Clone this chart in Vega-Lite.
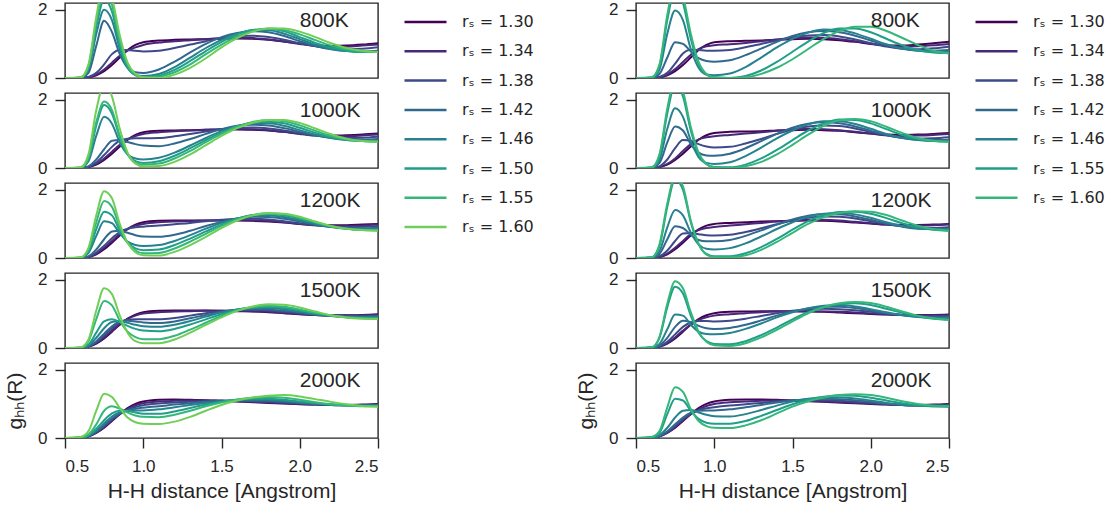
{
"$schema":"https://vega.github.io/schema/vega-lite/v6.json",
"padding":{"left":3,"top":0,"right":0,"bottom":0},
"background":"white",
"config":{
 "font":"Liberation Sans",
 "view":{"stroke":"#262626","strokeWidth":1.4},
 "axis":{"domain":false,"grid":false,"tickSize":10,"tickColor":"#262626","tickWidth":1.4,"labelFontSize":17,"labelColor":"#262626","labelPadding":8,"titlePadding":7,"titleFontSize":21,"titleFontWeight":"normal","titleColor":"#262626","labelFont":"Liberation Sans","titleFont":"Liberation Sans"},
 "axisY":{"titlePadding":12,"titleFontSize":21},
 "axisX":{"labelPadding":10,"titlePadding":6},
 "legend":{"symbolType":"stroke","symbolSize":1764,"symbolStrokeWidth":2.5,"labelFontSize":16,"labelColor":"#262626","labelFont":"DejaVu Sans","clipHeight":16,"rowPadding":13.3,"labelOffset":14,"padding":11,"offset":12}
},
"datasets":{
"L":[
{"T":800,"x":0.5,"a":0,"b":0,"c":0,"d":0,"e":0,"f":0,"g":0,"h":0},
{"T":800,"x":0.6,"a":0,"b":0,"c":0,"d":0.01,"e":0.01,"f":0.01,"g":0.01,"h":0.02},
{"T":800,"x":0.65,"a":0.02,"b":0.02,"c":0.03,"d":0.15,"e":0.25,"f":0.3,"g":0.35,"h":0.4},
{"T":800,"x":0.7,"a":0.08,"b":0.1,"c":0.15,"d":0.95,"e":1.3,"f":1.5,"g":1.65,"h":1.8},
{"T":800,"x":0.75,"a":0.2,"b":0.25,"c":0.4,"d":1.68,"e":2.0,"f":2.3,"g":2.55,"h":2.8},
{"T":800,"x":0.8,"a":0.38,"b":0.45,"c":0.7,"d":1.35,"e":1.7,"f":1.95,"g":2.15,"h":2.35},
{"T":800,"x":0.85,"a":0.6,"b":0.65,"c":0.82,"d":0.7,"e":0.85,"f":0.95,"g":1.1,"h":1.25},
{"T":800,"x":0.9,"a":0.82,"b":0.8,"c":0.82,"d":0.3,"e":0.3,"f":0.32,"g":0.38,"h":0.45},
{"T":800,"x":0.95,"a":0.97,"b":0.9,"c":0.8,"d":0.17,"e":0.1,"f":0.08,"g":0.1,"h":0.12},
{"T":800,"x":1.0,"a":1.05,"b":0.97,"c":0.78,"d":0.15,"e":0.06,"f":0.03,"g":0.02,"h":0.02},
{"T":800,"x":1.1,"a":1.1,"b":1.04,"c":0.8,"d":0.25,"e":0.12,"f":0.07,"g":0.04,"h":0},
{"T":800,"x":1.2,"a":1.12,"b":1.08,"c":0.88,"d":0.48,"e":0.32,"f":0.24,"g":0.17,"h":0.1},
{"T":800,"x":1.3,"a":1.13,"b":1.11,"c":0.98,"d":0.75,"e":0.6,"f":0.5,"g":0.4,"h":0.3},
{"T":800,"x":1.4,"a":1.14,"b":1.14,"c":1.08,"d":1.0,"e":0.88,"f":0.79,"g":0.7,"h":0.58},
{"T":800,"x":1.5,"a":1.15,"b":1.17,"c":1.17,"d":1.2,"e":1.12,"f":1.06,"g":0.98,"h":0.9},
{"T":800,"x":1.6,"a":1.16,"b":1.18,"c":1.23,"d":1.32,"e":1.3,"f":1.28,"g":1.22,"h":1.17},
{"T":800,"x":1.7,"a":1.15,"b":1.17,"c":1.24,"d":1.37,"e":1.4,"f":1.41,"g":1.38,"h":1.36},
{"T":800,"x":1.8,"a":1.12,"b":1.13,"c":1.2,"d":1.34,"e":1.4,"f":1.44,"g":1.45,"h":1.45},
{"T":800,"x":1.9,"a":1.07,"b":1.07,"c":1.12,"d":1.23,"e":1.3,"f":1.37,"g":1.41,"h":1.45},
{"T":800,"x":2.0,"a":1.01,"b":1.0,"c":1.02,"d":1.08,"e":1.14,"f":1.2,"g":1.28,"h":1.36},
{"T":800,"x":2.1,"a":0.96,"b":0.94,"c":0.93,"d":0.94,"e":0.98,"f":1.03,"g":1.11,"h":1.2},
{"T":800,"x":2.2,"a":0.94,"b":0.91,"c":0.87,"d":0.84,"e":0.86,"f":0.89,"g":0.95,"h":1.02},
{"T":800,"x":2.3,"a":0.95,"b":0.92,"c":0.85,"d":0.79,"e":0.79,"f":0.8,"g":0.84,"h":0.88},
{"T":800,"x":2.4,"a":0.98,"b":0.95,"c":0.86,"d":0.78,"e":0.76,"f":0.76,"g":0.78,"h":0.8},
{"T":800,"x":2.5,"a":1.02,"b":0.98,"c":0.9,"d":0.8,"e":0.77,"f":0.76,"g":0.76,"h":0.76},
{"T":1000,"x":0.5,"a":0,"b":0,"c":0,"d":0,"e":0,"f":0,"g":0,"h":0},
{"T":1000,"x":0.6,"a":0,"b":0,"c":0,"d":0,"e":0.01,"f":0.01,"g":0.01,"h":0.02},
{"T":1000,"x":0.65,"a":0.03,"b":0.03,"c":0.04,"d":0.05,"e":0.2,"f":0.28,"g":0.3,"h":0.4},
{"T":1000,"x":0.7,"a":0.1,"b":0.12,"c":0.16,"d":0.25,"e":0.95,"f":1.25,"g":1.35,"h":1.7},
{"T":1000,"x":0.75,"a":0.24,"b":0.28,"c":0.38,"d":0.55,"e":1.5,"f":1.85,"g":1.95,"h":2.45},
{"T":1000,"x":0.8,"a":0.42,"b":0.48,"c":0.62,"d":0.8,"e":1.3,"f":1.6,"g":1.7,"h":2.1},
{"T":1000,"x":0.85,"a":0.63,"b":0.68,"c":0.8,"d":0.82,"e":0.75,"f":0.9,"g":0.95,"h":1.15},
{"T":1000,"x":0.9,"a":0.83,"b":0.84,"c":0.86,"d":0.76,"e":0.4,"f":0.4,"g":0.4,"h":0.45},
{"T":1000,"x":0.95,"a":0.97,"b":0.94,"c":0.87,"d":0.7,"e":0.28,"f":0.2,"g":0.15,"h":0.13},
{"T":1000,"x":1.0,"a":1.05,"b":1.0,"c":0.87,"d":0.66,"e":0.25,"f":0.15,"g":0.1,"h":0.05},
{"T":1000,"x":1.1,"a":1.09,"b":1.05,"c":0.88,"d":0.64,"e":0.3,"f":0.2,"g":0.13,"h":0.06},
{"T":1000,"x":1.2,"a":1.1,"b":1.08,"c":0.93,"d":0.72,"e":0.45,"f":0.36,"g":0.28,"h":0.18},
{"T":1000,"x":1.3,"a":1.11,"b":1.1,"c":1.0,"d":0.85,"e":0.66,"f":0.58,"g":0.5,"h":0.4},
{"T":1000,"x":1.4,"a":1.12,"b":1.12,"c":1.07,"d":1.0,"e":0.88,"f":0.82,"g":0.76,"h":0.67},
{"T":1000,"x":1.5,"a":1.13,"b":1.14,"c":1.14,"d":1.14,"e":1.08,"f":1.04,"g":1.0,"h":0.94},
{"T":1000,"x":1.6,"a":1.13,"b":1.15,"c":1.18,"d":1.24,"e":1.23,"f":1.22,"g":1.21,"h":1.17},
{"T":1000,"x":1.7,"a":1.12,"b":1.14,"c":1.19,"d":1.27,"e":1.31,"f":1.33,"g":1.35,"h":1.33},
{"T":1000,"x":1.8,"a":1.1,"b":1.11,"c":1.16,"d":1.25,"e":1.31,"f":1.36,"g":1.4,"h":1.41},
{"T":1000,"x":1.9,"a":1.06,"b":1.06,"c":1.1,"d":1.17,"e":1.24,"f":1.31,"g":1.37,"h":1.41},
{"T":1000,"x":2.0,"a":1.01,"b":1.0,"c":1.02,"d":1.06,"e":1.11,"f":1.18,"g":1.25,"h":1.32},
{"T":1000,"x":2.1,"a":0.97,"b":0.95,"c":0.95,"d":0.96,"e":0.98,"f":1.03,"g":1.09,"h":1.16},
{"T":1000,"x":2.2,"a":0.95,"b":0.93,"c":0.9,"d":0.88,"e":0.88,"f":0.9,"g":0.94,"h":0.99},
{"T":1000,"x":2.3,"a":0.96,"b":0.93,"c":0.88,"d":0.84,"e":0.82,"f":0.82,"g":0.84,"h":0.86},
{"T":1000,"x":2.4,"a":0.98,"b":0.95,"c":0.89,"d":0.83,"e":0.8,"f":0.79,"g":0.79,"h":0.79},
{"T":1000,"x":2.5,"a":1.01,"b":0.98,"c":0.92,"d":0.85,"e":0.8,"f":0.78,"g":0.77,"h":0.77},
{"T":1200,"x":0.5,"a":0,"b":0,"c":0,"d":0,"e":0,"f":0,"g":0,"h":0},
{"T":1200,"x":0.6,"a":0,"b":0,"c":0,"d":0,"e":0.01,"f":0.01,"g":0.01,"h":0.02},
{"T":1200,"x":0.65,"a":0.03,"b":0.03,"c":0.04,"d":0.05,"e":0.15,"f":0.2,"g":0.25,"h":0.3},
{"T":1200,"x":0.7,"a":0.11,"b":0.13,"c":0.16,"d":0.25,"e":0.65,"f":0.85,"g":1.05,"h":1.25},
{"T":1200,"x":0.75,"a":0.26,"b":0.3,"c":0.36,"d":0.55,"e":1.08,"f":1.36,"g":1.67,"h":1.96},
{"T":1200,"x":0.8,"a":0.45,"b":0.5,"c":0.58,"d":0.78,"e":1.02,"f":1.25,"g":1.5,"h":1.75},
{"T":1200,"x":0.85,"a":0.66,"b":0.7,"c":0.76,"d":0.8,"e":0.72,"f":0.8,"g":0.9,"h":1.0},
{"T":1200,"x":0.9,"a":0.85,"b":0.85,"c":0.86,"d":0.74,"e":0.48,"f":0.45,"g":0.45,"h":0.45},
{"T":1200,"x":0.95,"a":0.98,"b":0.95,"c":0.9,"d":0.67,"e":0.38,"f":0.28,"g":0.22,"h":0.17},
{"T":1200,"x":1.0,"a":1.05,"b":1.0,"c":0.92,"d":0.63,"e":0.35,"f":0.23,"g":0.14,"h":0.08},
{"T":1200,"x":1.1,"a":1.09,"b":1.05,"c":0.95,"d":0.62,"e":0.38,"f":0.25,"g":0.15,"h":0.07},
{"T":1200,"x":1.2,"a":1.1,"b":1.07,"c":0.99,"d":0.68,"e":0.5,"f":0.38,"g":0.28,"h":0.18},
{"T":1200,"x":1.3,"a":1.1,"b":1.08,"c":1.03,"d":0.8,"e":0.67,"f":0.57,"g":0.48,"h":0.38},
{"T":1200,"x":1.4,"a":1.1,"b":1.1,"c":1.08,"d":0.94,"e":0.86,"f":0.78,"g":0.71,"h":0.62},
{"T":1200,"x":1.5,"a":1.1,"b":1.11,"c":1.12,"d":1.06,"e":1.03,"f":0.98,"g":0.94,"h":0.88},
{"T":1200,"x":1.6,"a":1.1,"b":1.12,"c":1.15,"d":1.16,"e":1.16,"f":1.15,"g":1.13,"h":1.1},
{"T":1200,"x":1.7,"a":1.09,"b":1.11,"c":1.15,"d":1.21,"e":1.24,"f":1.26,"g":1.26,"h":1.25},
{"T":1200,"x":1.8,"a":1.07,"b":1.09,"c":1.13,"d":1.2,"e":1.25,"f":1.29,"g":1.31,"h":1.31},
{"T":1200,"x":1.9,"a":1.04,"b":1.05,"c":1.08,"d":1.15,"e":1.2,"f":1.25,"g":1.28,"h":1.3},
{"T":1200,"x":2.0,"a":1.0,"b":1.0,"c":1.02,"d":1.07,"e":1.11,"f":1.15,"g":1.18,"h":1.21},
{"T":1200,"x":2.1,"a":0.97,"b":0.96,"c":0.96,"d":0.98,"e":1.0,"f":1.03,"g":1.05,"h":1.07},
{"T":1200,"x":2.2,"a":0.96,"b":0.94,"c":0.92,"d":0.92,"e":0.91,"f":0.92,"g":0.93,"h":0.94},
{"T":1200,"x":2.3,"a":0.96,"b":0.94,"c":0.91,"d":0.88,"e":0.86,"f":0.86,"g":0.86,"h":0.86},
{"T":1200,"x":2.4,"a":0.98,"b":0.95,"c":0.92,"d":0.87,"e":0.84,"f":0.83,"g":0.82,"h":0.82},
{"T":1200,"x":2.5,"a":1.0,"b":0.98,"c":0.94,"d":0.89,"e":0.84,"f":0.82,"g":0.81,"h":0.8},
{"T":1500,"x":0.5,"a":0,"b":0,"c":0,"d":0,"e":0,"f":0,"g":0,"h":0},
{"T":1500,"x":0.6,"a":0,"b":0,"c":0,"d":0,"e":0.01,"f":0.01,"g":0.01,"h":0.02},
{"T":1500,"x":0.65,"a":0.04,"b":0.04,"c":0.05,"d":0.05,"e":0.08,"f":0.1,"g":0.2,"h":0.25},
{"T":1500,"x":0.7,"a":0.13,"b":0.14,"c":0.17,"d":0.2,"e":0.3,"f":0.45,"g":0.85,"h":1.1},
{"T":1500,"x":0.75,"a":0.28,"b":0.31,"c":0.37,"d":0.42,"e":0.58,"f":0.78,"g":1.38,"h":1.75},
{"T":1500,"x":0.8,"a":0.48,"b":0.51,"c":0.58,"d":0.64,"e":0.76,"f":0.84,"g":1.25,"h":1.58},
{"T":1500,"x":0.85,"a":0.68,"b":0.7,"c":0.75,"d":0.77,"e":0.79,"f":0.76,"g":0.8,"h":0.95},
{"T":1500,"x":0.9,"a":0.86,"b":0.85,"c":0.83,"d":0.8,"e":0.74,"f":0.65,"g":0.48,"h":0.45},
{"T":1500,"x":0.95,"a":0.98,"b":0.95,"c":0.84,"d":0.78,"e":0.68,"f":0.56,"g":0.32,"h":0.2},
{"T":1500,"x":1.0,"a":1.05,"b":1.01,"c":0.84,"d":0.75,"e":0.64,"f":0.51,"g":0.26,"h":0.14},
{"T":1500,"x":1.1,"a":1.09,"b":1.05,"c":0.84,"d":0.73,"e":0.62,"f":0.49,"g":0.26,"h":0.14},
{"T":1500,"x":1.2,"a":1.1,"b":1.07,"c":0.88,"d":0.78,"e":0.68,"f":0.56,"g":0.36,"h":0.25},
{"T":1500,"x":1.3,"a":1.1,"b":1.08,"c":0.95,"d":0.87,"e":0.79,"f":0.69,"g":0.54,"h":0.45},
{"T":1500,"x":1.4,"a":1.1,"b":1.09,"c":1.02,"d":0.97,"e":0.92,"f":0.84,"g":0.74,"h":0.68},
{"T":1500,"x":1.5,"a":1.09,"b":1.09,"c":1.08,"d":1.06,"e":1.04,"f":0.99,"g":0.94,"h":0.9},
{"T":1500,"x":1.6,"a":1.08,"b":1.09,"c":1.11,"d":1.12,"e":1.13,"f":1.12,"g":1.1,"h":1.09},
{"T":1500,"x":1.7,"a":1.07,"b":1.08,"c":1.12,"d":1.14,"e":1.17,"f":1.19,"g":1.2,"h":1.22},
{"T":1500,"x":1.8,"a":1.05,"b":1.06,"c":1.1,"d":1.13,"e":1.17,"f":1.21,"g":1.24,"h":1.28},
{"T":1500,"x":1.9,"a":1.02,"b":1.03,"c":1.06,"d":1.09,"e":1.13,"f":1.17,"g":1.21,"h":1.27},
{"T":1500,"x":2.0,"a":0.99,"b":1.0,"c":1.02,"d":1.04,"e":1.06,"f":1.1,"g":1.13,"h":1.19},
{"T":1500,"x":2.1,"a":0.97,"b":0.97,"c":0.98,"d":0.98,"e":0.99,"f":1.02,"g":1.03,"h":1.07},
{"T":1500,"x":2.2,"a":0.96,"b":0.95,"c":0.95,"d":0.94,"e":0.94,"f":0.95,"g":0.95,"h":0.96},
{"T":1500,"x":2.3,"a":0.96,"b":0.95,"c":0.94,"d":0.92,"e":0.91,"f":0.9,"g":0.9,"h":0.89},
{"T":1500,"x":2.4,"a":0.97,"b":0.96,"c":0.94,"d":0.92,"e":0.9,"f":0.88,"g":0.87,"h":0.86},
{"T":1500,"x":2.5,"a":0.99,"b":0.97,"c":0.95,"d":0.93,"e":0.91,"f":0.88,"g":0.86,"h":0.85},
{"T":2000,"x":0.5,"a":0,"b":0,"c":0,"d":0,"e":0,"f":0,"g":0,"h":0},
{"T":2000,"x":0.6,"a":0.01,"b":0.01,"c":0.01,"d":0.01,"e":0.01,"f":0.01,"g":0.02,"h":0.03},
{"T":2000,"x":0.65,"a":0.05,"b":0.05,"c":0.05,"d":0.06,"e":0.07,"f":0.08,"g":0.1,"h":0.2},
{"T":2000,"x":0.7,"a":0.15,"b":0.16,"c":0.17,"d":0.19,"e":0.22,"f":0.27,"g":0.4,"h":0.8},
{"T":2000,"x":0.75,"a":0.3,"b":0.32,"c":0.34,"d":0.38,"e":0.43,"f":0.52,"g":0.8,"h":1.3},
{"T":2000,"x":0.8,"a":0.5,"b":0.52,"c":0.54,"d":0.57,"e":0.63,"f":0.72,"g":0.93,"h":1.2},
{"T":2000,"x":0.85,"a":0.7,"b":0.7,"c":0.71,"d":0.72,"e":0.75,"f":0.8,"g":0.86,"h":0.88},
{"T":2000,"x":0.9,"a":0.88,"b":0.85,"c":0.83,"d":0.81,"e":0.8,"f":0.79,"g":0.75,"h":0.6},
{"T":2000,"x":0.95,"a":1.0,"b":0.96,"c":0.91,"d":0.86,"e":0.81,"f":0.75,"g":0.66,"h":0.46},
{"T":2000,"x":1.0,"a":1.07,"b":1.02,"c":0.96,"d":0.89,"e":0.81,"f":0.71,"g":0.62,"h":0.42},
{"T":2000,"x":1.1,"a":1.12,"b":1.07,"c":1.01,"d":0.93,"e":0.84,"f":0.71,"g":0.61,"h":0.41},
{"T":2000,"x":1.2,"a":1.13,"b":1.09,"c":1.04,"d":0.98,"e":0.9,"f":0.78,"g":0.68,"h":0.48},
{"T":2000,"x":1.3,"a":1.12,"b":1.1,"c":1.06,"d":1.02,"e":0.97,"f":0.88,"g":0.8,"h":0.62},
{"T":2000,"x":1.4,"a":1.11,"b":1.1,"c":1.08,"d":1.06,"e":1.03,"f":0.98,"g":0.93,"h":0.8},
{"T":2000,"x":1.5,"a":1.09,"b":1.09,"c":1.09,"d":1.09,"e":1.08,"f":1.06,"g":1.04,"h":0.97},
{"T":2000,"x":1.6,"a":1.07,"b":1.08,"c":1.09,"d":1.1,"e":1.11,"f":1.12,"g":1.13,"h":1.1},
{"T":2000,"x":1.7,"a":1.05,"b":1.06,"c":1.08,"d":1.1,"e":1.13,"f":1.15,"g":1.18,"h":1.19},
{"T":2000,"x":1.8,"a":1.03,"b":1.04,"c":1.06,"d":1.09,"e":1.12,"f":1.15,"g":1.2,"h":1.24},
{"T":2000,"x":1.9,"a":1.01,"b":1.02,"c":1.04,"d":1.06,"e":1.09,"f":1.12,"g":1.18,"h":1.26},
{"T":2000,"x":2.0,"a":0.99,"b":1.0,"c":1.01,"d":1.03,"e":1.05,"f":1.07,"g":1.12,"h":1.22},
{"T":2000,"x":2.1,"a":0.98,"b":0.98,"c":0.99,"d":1.0,"e":1.01,"f":1.02,"g":1.05,"h":1.14},
{"T":2000,"x":2.2,"a":0.97,"b":0.97,"c":0.97,"d":0.97,"e":0.98,"f":0.98,"g":0.99,"h":1.06},
{"T":2000,"x":2.3,"a":0.97,"b":0.97,"c":0.96,"d":0.96,"e":0.96,"f":0.95,"g":0.95,"h":0.99},
{"T":2000,"x":2.4,"a":0.98,"b":0.97,"c":0.96,"d":0.95,"e":0.95,"f":0.94,"g":0.93,"h":0.94},
{"T":2000,"x":2.5,"a":1.0,"b":0.99,"c":0.97,"d":0.96,"e":0.95,"f":0.94,"g":0.93,"h":0.92}
],
"R":[
{"T":800,"x":0.5,"a":0,"b":0,"c":0,"d":0,"e":0,"g":0,"h":0},
{"T":800,"x":0.6,"a":0,"b":0,"c":0,"d":0.01,"e":0.01,"g":0.01,"h":0.02},
{"T":800,"x":0.65,"a":0.02,"b":0.02,"c":0.03,"d":0.12,"e":0.25,"g":0.35,"h":0.4},
{"T":800,"x":0.7,"a":0.08,"b":0.1,"c":0.15,"d":0.6,"e":1.3,"g":1.7,"h":1.85},
{"T":800,"x":0.75,"a":0.2,"b":0.26,"c":0.42,"d":1.05,"e":1.98,"g":2.6,"h":2.8},
{"T":800,"x":0.8,"a":0.38,"b":0.47,"c":0.72,"d":1.0,"e":1.7,"g":2.2,"h":2.4},
{"T":800,"x":0.85,"a":0.6,"b":0.68,"c":0.83,"d":0.78,"e":0.85,"g":1.15,"h":1.3},
{"T":800,"x":0.9,"a":0.82,"b":0.85,"c":0.82,"d":0.58,"e":0.3,"g":0.4,"h":0.47},
{"T":800,"x":0.95,"a":0.97,"b":0.93,"c":0.8,"d":0.5,"e":0.1,"g":0.1,"h":0.12},
{"T":800,"x":1.0,"a":1.05,"b":0.96,"c":0.8,"d":0.48,"e":0.08,"g":0.02,"h":0.02},
{"T":800,"x":1.1,"a":1.08,"b":0.99,"c":0.82,"d":0.52,"e":0.13,"g":0,"h":0},
{"T":800,"x":1.2,"a":1.09,"b":1.03,"c":0.9,"d":0.67,"e":0.32,"g":0.06,"h":0.02},
{"T":800,"x":1.3,"a":1.1,"b":1.08,"c":1.0,"d":0.86,"e":0.6,"g":0.22,"h":0.12},
{"T":800,"x":1.4,"a":1.12,"b":1.13,"c":1.1,"d":1.06,"e":0.9,"g":0.47,"h":0.3},
{"T":800,"x":1.5,"a":1.14,"b":1.17,"c":1.19,"d":1.23,"e":1.15,"g":0.77,"h":0.55},
{"T":800,"x":1.6,"a":1.15,"b":1.19,"c":1.25,"d":1.34,"e":1.33,"g":1.07,"h":0.85},
{"T":800,"x":1.7,"a":1.14,"b":1.18,"c":1.26,"d":1.38,"e":1.42,"g":1.32,"h":1.15},
{"T":800,"x":1.8,"a":1.11,"b":1.14,"c":1.22,"d":1.34,"e":1.41,"g":1.45,"h":1.38},
{"T":800,"x":1.9,"a":1.06,"b":1.08,"c":1.13,"d":1.24,"e":1.31,"g":1.45,"h":1.5},
{"T":800,"x":2.0,"a":1.0,"b":1.01,"c":1.02,"d":1.1,"e":1.15,"g":1.34,"h":1.5},
{"T":800,"x":2.1,"a":0.96,"b":0.95,"c":0.92,"d":0.96,"e":0.99,"g":1.15,"h":1.38},
{"T":800,"x":2.2,"a":0.95,"b":0.92,"c":0.86,"d":0.86,"e":0.87,"g":0.96,"h":1.18},
{"T":800,"x":2.3,"a":0.98,"b":0.93,"c":0.84,"d":0.81,"e":0.8,"g":0.82,"h":0.97},
{"T":800,"x":2.4,"a":1.02,"b":0.96,"c":0.87,"d":0.8,"e":0.77,"g":0.75,"h":0.8},
{"T":800,"x":2.5,"a":1.06,"b":1.0,"c":0.92,"d":0.82,"e":0.77,"g":0.73,"h":0.72},
{"T":1000,"x":0.5,"a":0,"b":0,"c":0,"d":0,"e":0,"g":0,"h":0},
{"T":1000,"x":0.6,"a":0,"b":0,"c":0,"d":0.01,"e":0.01,"g":0.01,"h":0.02},
{"T":1000,"x":0.65,"a":0.03,"b":0.03,"c":0.05,"d":0.15,"e":0.25,"g":0.35,"h":0.4},
{"T":1000,"x":0.7,"a":0.1,"b":0.12,"c":0.25,"d":0.75,"e":1.15,"g":1.6,"h":1.75},
{"T":1000,"x":0.75,"a":0.24,"b":0.28,"c":0.58,"d":1.22,"e":1.75,"g":2.45,"h":2.6},
{"T":1000,"x":0.8,"a":0.42,"b":0.5,"c":0.82,"d":1.1,"e":1.5,"g":2.1,"h":2.25},
{"T":1000,"x":0.85,"a":0.63,"b":0.7,"c":0.8,"d":0.7,"e":0.8,"g":1.1,"h":1.2},
{"T":1000,"x":0.9,"a":0.83,"b":0.84,"c":0.7,"d":0.45,"e":0.32,"g":0.4,"h":0.45},
{"T":1000,"x":0.95,"a":0.96,"b":0.9,"c":0.63,"d":0.37,"e":0.15,"g":0.11,"h":0.12},
{"T":1000,"x":1.0,"a":1.03,"b":0.93,"c":0.6,"d":0.36,"e":0.12,"g":0.03,"h":0.02},
{"T":1000,"x":1.1,"a":1.06,"b":0.97,"c":0.62,"d":0.42,"e":0.17,"g":0.02,"h":0},
{"T":1000,"x":1.2,"a":1.07,"b":1.01,"c":0.72,"d":0.58,"e":0.35,"g":0.1,"h":0.05},
{"T":1000,"x":1.3,"a":1.08,"b":1.05,"c":0.85,"d":0.79,"e":0.6,"g":0.28,"h":0.18},
{"T":1000,"x":1.4,"a":1.1,"b":1.09,"c":1.0,"d":1.0,"e":0.87,"g":0.53,"h":0.4},
{"T":1000,"x":1.5,"a":1.11,"b":1.13,"c":1.13,"d":1.18,"e":1.1,"g":0.82,"h":0.68},
{"T":1000,"x":1.6,"a":1.12,"b":1.15,"c":1.22,"d":1.3,"e":1.28,"g":1.1,"h":0.98},
{"T":1000,"x":1.7,"a":1.11,"b":1.14,"c":1.25,"d":1.34,"e":1.37,"g":1.31,"h":1.24},
{"T":1000,"x":1.8,"a":1.09,"b":1.11,"c":1.23,"d":1.31,"e":1.37,"g":1.42,"h":1.4},
{"T":1000,"x":1.9,"a":1.05,"b":1.06,"c":1.16,"d":1.22,"e":1.29,"g":1.41,"h":1.44},
{"T":1000,"x":2.0,"a":1.01,"b":1.01,"c":1.06,"d":1.09,"e":1.15,"g":1.31,"h":1.37},
{"T":1000,"x":2.1,"a":0.98,"b":0.96,"c":0.96,"d":0.97,"e":1.0,"g":1.14,"h":1.21},
{"T":1000,"x":2.2,"a":0.97,"b":0.94,"c":0.89,"d":0.88,"e":0.89,"g":0.97,"h":1.03},
{"T":1000,"x":2.3,"a":0.98,"b":0.95,"c":0.86,"d":0.83,"e":0.82,"g":0.85,"h":0.88},
{"T":1000,"x":2.4,"a":1.0,"b":0.97,"c":0.87,"d":0.82,"e":0.79,"g":0.79,"h":0.8},
{"T":1000,"x":2.5,"a":1.03,"b":1.0,"c":0.9,"d":0.83,"e":0.79,"g":0.77,"h":0.77},
{"T":1200,"x":0.5,"a":0,"b":0,"c":0,"d":0,"e":0,"g":0,"h":0},
{"T":1200,"x":0.6,"a":0,"b":0,"c":0.01,"d":0.01,"e":0.01,"g":0.02,"h":0.02},
{"T":1200,"x":0.65,"a":0.03,"b":0.03,"c":0.05,"d":0.12,"e":0.2,"g":0.35,"h":0.4},
{"T":1200,"x":0.7,"a":0.11,"b":0.13,"c":0.22,"d":0.55,"e":0.9,"g":1.5,"h":1.6},
{"T":1200,"x":0.75,"a":0.26,"b":0.3,"c":0.5,"d":0.93,"e":1.41,"g":2.3,"h":2.4},
{"T":1200,"x":0.8,"a":0.45,"b":0.5,"c":0.72,"d":0.88,"e":1.25,"g":2.0,"h":2.1},
{"T":1200,"x":0.85,"a":0.66,"b":0.7,"c":0.73,"d":0.68,"e":0.75,"g":1.05,"h":1.1},
{"T":1200,"x":0.9,"a":0.84,"b":0.82,"c":0.7,"d":0.53,"e":0.4,"g":0.4,"h":0.42},
{"T":1200,"x":0.95,"a":0.95,"b":0.88,"c":0.67,"d":0.49,"e":0.27,"g":0.12,"h":0.1},
{"T":1200,"x":1.0,"a":1.0,"b":0.91,"c":0.66,"d":0.49,"e":0.25,"g":0.05,"h":0.03},
{"T":1200,"x":1.1,"a":1.03,"b":0.95,"c":0.68,"d":0.53,"e":0.29,"g":0.05,"h":0.02},
{"T":1200,"x":1.2,"a":1.05,"b":0.99,"c":0.76,"d":0.65,"e":0.43,"g":0.14,"h":0.08},
{"T":1200,"x":1.3,"a":1.07,"b":1.03,"c":0.87,"d":0.81,"e":0.63,"g":0.32,"h":0.24},
{"T":1200,"x":1.4,"a":1.08,"b":1.07,"c":0.99,"d":0.98,"e":0.85,"g":0.56,"h":0.47},
{"T":1200,"x":1.5,"a":1.09,"b":1.1,"c":1.1,"d":1.13,"e":1.05,"g":0.83,"h":0.74},
{"T":1200,"x":1.6,"a":1.1,"b":1.12,"c":1.18,"d":1.24,"e":1.21,"g":1.08,"h":1.0},
{"T":1200,"x":1.7,"a":1.09,"b":1.12,"c":1.22,"d":1.29,"e":1.3,"g":1.26,"h":1.2},
{"T":1200,"x":1.8,"a":1.07,"b":1.1,"c":1.21,"d":1.28,"e":1.32,"g":1.35,"h":1.32},
{"T":1200,"x":1.9,"a":1.04,"b":1.06,"c":1.16,"d":1.22,"e":1.28,"g":1.36,"h":1.37},
{"T":1200,"x":2.0,"a":1.01,"b":1.02,"c":1.08,"d":1.12,"e":1.18,"g":1.3,"h":1.36},
{"T":1200,"x":2.1,"a":0.98,"b":0.98,"c":1.0,"d":1.01,"e":1.05,"g":1.17,"h":1.26},
{"T":1200,"x":2.2,"a":0.97,"b":0.95,"c":0.93,"d":0.92,"e":0.94,"g":1.02,"h":1.1},
{"T":1200,"x":2.3,"a":0.97,"b":0.95,"c":0.89,"d":0.86,"e":0.87,"g":0.9,"h":0.95},
{"T":1200,"x":2.4,"a":0.98,"b":0.96,"c":0.88,"d":0.85,"e":0.84,"g":0.83,"h":0.85},
{"T":1200,"x":2.5,"a":1.0,"b":0.98,"c":0.9,"d":0.86,"e":0.84,"g":0.8,"h":0.8},
{"T":1500,"x":0.5,"a":0,"b":0,"c":0,"d":0,"e":0,"g":0,"h":0},
{"T":1500,"x":0.6,"a":0,"b":0,"c":0.01,"d":0.01,"e":0.01,"g":0.02,"h":0.02},
{"T":1500,"x":0.65,"a":0.04,"b":0.04,"c":0.05,"d":0.08,"e":0.12,"g":0.3,"h":0.33},
{"T":1500,"x":0.7,"a":0.13,"b":0.14,"c":0.18,"d":0.3,"e":0.55,"g":1.2,"h":1.3},
{"T":1500,"x":0.75,"a":0.28,"b":0.31,"c":0.4,"d":0.62,"e":0.98,"g":1.8,"h":1.96},
{"T":1500,"x":0.8,"a":0.48,"b":0.51,"c":0.62,"d":0.8,"e":0.95,"g":1.6,"h":1.75},
{"T":1500,"x":0.85,"a":0.68,"b":0.69,"c":0.75,"d":0.76,"e":0.68,"g":0.95,"h":1.05},
{"T":1500,"x":0.9,"a":0.85,"b":0.82,"c":0.79,"d":0.65,"e":0.48,"g":0.45,"h":0.48},
{"T":1500,"x":0.95,"a":0.96,"b":0.9,"c":0.79,"d":0.58,"e":0.41,"g":0.2,"h":0.18},
{"T":1500,"x":1.0,"a":1.02,"b":0.95,"c":0.78,"d":0.56,"e":0.4,"g":0.12,"h":0.08},
{"T":1500,"x":1.1,"a":1.06,"b":0.99,"c":0.8,"d":0.59,"e":0.44,"g":0.11,"h":0.06},
{"T":1500,"x":1.2,"a":1.07,"b":1.02,"c":0.86,"d":0.68,"e":0.56,"g":0.2,"h":0.14},
{"T":1500,"x":1.3,"a":1.08,"b":1.05,"c":0.94,"d":0.81,"e":0.72,"g":0.38,"h":0.31},
{"T":1500,"x":1.4,"a":1.08,"b":1.07,"c":1.02,"d":0.95,"e":0.9,"g":0.6,"h":0.53},
{"T":1500,"x":1.5,"a":1.08,"b":1.08,"c":1.09,"d":1.07,"e":1.05,"g":0.84,"h":0.78},
{"T":1500,"x":1.6,"a":1.07,"b":1.08,"c":1.13,"d":1.16,"e":1.17,"g":1.05,"h":1.02},
{"T":1500,"x":1.7,"a":1.06,"b":1.07,"c":1.15,"d":1.21,"e":1.24,"g":1.2,"h":1.2},
{"T":1500,"x":1.8,"a":1.04,"b":1.06,"c":1.14,"d":1.21,"e":1.26,"g":1.29,"h":1.31},
{"T":1500,"x":1.9,"a":1.02,"b":1.04,"c":1.11,"d":1.17,"e":1.22,"g":1.31,"h":1.35},
{"T":1500,"x":2.0,"a":1.0,"b":1.01,"c":1.06,"d":1.1,"e":1.14,"g":1.26,"h":1.32},
{"T":1500,"x":2.1,"a":0.98,"b":0.99,"c":1.01,"d":1.02,"e":1.05,"g":1.15,"h":1.21},
{"T":1500,"x":2.2,"a":0.97,"b":0.97,"c":0.97,"d":0.96,"e":0.97,"g":1.03,"h":1.07},
{"T":1500,"x":2.3,"a":0.97,"b":0.96,"c":0.94,"d":0.92,"e":0.91,"g":0.93,"h":0.95},
{"T":1500,"x":2.4,"a":0.97,"b":0.96,"c":0.93,"d":0.9,"e":0.88,"g":0.86,"h":0.87},
{"T":1500,"x":2.5,"a":0.98,"b":0.97,"c":0.94,"d":0.9,"e":0.87,"g":0.83,"h":0.82},
{"T":2000,"x":0.5,"a":0,"b":0,"c":0,"d":0,"e":0,"g":0,"h":0},
{"T":2000,"x":0.6,"a":0.01,"b":0.01,"c":0.01,"d":0.01,"e":0.01,"g":0.02,"h":0.03},
{"T":2000,"x":0.65,"a":0.05,"b":0.05,"c":0.05,"d":0.06,"e":0.08,"g":0.15,"h":0.2},
{"T":2000,"x":0.7,"a":0.15,"b":0.16,"c":0.17,"d":0.2,"e":0.3,"g":0.7,"h":0.9},
{"T":2000,"x":0.75,"a":0.3,"b":0.32,"c":0.35,"d":0.4,"e":0.6,"g":1.15,"h":1.49},
{"T":2000,"x":0.8,"a":0.5,"b":0.52,"c":0.55,"d":0.6,"e":0.8,"g":1.1,"h":1.35},
{"T":2000,"x":0.85,"a":0.7,"b":0.7,"c":0.71,"d":0.74,"e":0.82,"g":0.8,"h":0.85},
{"T":2000,"x":0.9,"a":0.88,"b":0.84,"c":0.81,"d":0.8,"e":0.75,"g":0.56,"h":0.5},
{"T":2000,"x":0.95,"a":1.0,"b":0.94,"c":0.87,"d":0.81,"e":0.68,"g":0.45,"h":0.35},
{"T":2000,"x":1.0,"a":1.07,"b":1.0,"c":0.9,"d":0.81,"e":0.64,"g":0.42,"h":0.3},
{"T":2000,"x":1.1,"a":1.12,"b":1.05,"c":0.95,"d":0.84,"e":0.63,"g":0.42,"h":0.29},
{"T":2000,"x":1.2,"a":1.13,"b":1.07,"c":0.99,"d":0.9,"e":0.7,"g":0.5,"h":0.37},
{"T":2000,"x":1.3,"a":1.13,"b":1.09,"c":1.03,"d":0.97,"e":0.82,"g":0.65,"h":0.52},
{"T":2000,"x":1.4,"a":1.12,"b":1.1,"c":1.07,"d":1.04,"e":0.95,"g":0.82,"h":0.72},
{"T":2000,"x":1.5,"a":1.1,"b":1.1,"c":1.1,"d":1.1,"e":1.07,"g":0.99,"h":0.92},
{"T":2000,"x":1.6,"a":1.08,"b":1.09,"c":1.11,"d":1.14,"e":1.15,"g":1.12,"h":1.08},
{"T":2000,"x":1.7,"a":1.06,"b":1.07,"c":1.11,"d":1.15,"e":1.19,"g":1.21,"h":1.19},
{"T":2000,"x":1.8,"a":1.04,"b":1.05,"c":1.09,"d":1.14,"e":1.19,"g":1.25,"h":1.26},
{"T":2000,"x":1.9,"a":1.02,"b":1.03,"c":1.06,"d":1.11,"e":1.16,"g":1.24,"h":1.28},
{"T":2000,"x":2.0,"a":1.0,"b":1.01,"c":1.03,"d":1.06,"e":1.1,"g":1.18,"h":1.26},
{"T":2000,"x":2.1,"a":0.98,"b":0.99,"c":1.0,"d":1.01,"e":1.03,"g":1.1,"h":1.18},
{"T":2000,"x":2.2,"a":0.97,"b":0.97,"c":0.97,"d":0.97,"e":0.98,"g":1.02,"h":1.08},
{"T":2000,"x":2.3,"a":0.97,"b":0.96,"c":0.95,"d":0.95,"e":0.95,"g":0.96,"h":1.0},
{"T":2000,"x":2.4,"a":0.98,"b":0.96,"c":0.95,"d":0.94,"e":0.93,"g":0.93,"h":0.95},
{"T":2000,"x":2.5,"a":1.0,"b":0.98,"c":0.96,"d":0.95,"e":0.93,"g":0.92,"h":0.93}
]
},
"hconcat":[
{"spacing":15,"bounds":"flush","vconcat":[
{"width":313,"height":75,"layer":[
 {"data":{"name":"L"},"transform":[{"filter":"datum.T==800"},{"fold":["a","b","c","d","e","f","g","h"],"as":["r","v"]}],
  "mark":{"type":"line","strokeWidth":2,"clip":true,"interpolate":"monotone"},
  "encoding":{"x":{"field":"x","type":"quantitative","scale":{"domain":[0.5,2.5],"nice":false},"axis":null},
   "y":{"field":"v","type":"quantitative","scale":{"domain":[0,2.2],"nice":false},"axis":{"values":[0,2],"title":null}},
   "color":{"field":"r","type":"nominal","scale":{"domain":["a","b","c","d","e","f","g","h"],"range":["#440154","#482878","#3e4989","#31688e","#26828e","#1f9e89","#35b779","#6ece58"]},"legend":{"title":null,"labelFontSize":16,"labelFont":"DejaVu Sans","labelExpr":"'rₛ = ' + ['1.30','1.34','1.38','1.42','1.46','1.50','1.55','1.60'][indexof('abcdefgh', datum.value)]"}}}},
 {"data":{"values":[{"t":"800K"}]},"mark":{"type":"text","align":"left","baseline":"alphabetic","fontSize":21,"color":"#262626"},
  "encoding":{"x":{"datum":2.0,"type":"quantitative","axis":null},"y":{"datum":1.5,"type":"quantitative","axis":{"values":[0,2],"title":null}},"text":{"field":"t"}}}
]},
{"width":313,"height":75,"layer":[
 {"data":{"name":"L"},"transform":[{"filter":"datum.T==1000"},{"fold":["a","b","c","d","e","f","g","h"],"as":["r","v"]}],
  "mark":{"type":"line","strokeWidth":2,"clip":true,"interpolate":"monotone"},
  "encoding":{"x":{"field":"x","type":"quantitative","scale":{"domain":[0.5,2.5],"nice":false},"axis":null},
   "y":{"field":"v","type":"quantitative","scale":{"domain":[0,2.2],"nice":false},"axis":{"values":[0,2],"title":null}},
   "color":{"field":"r","type":"nominal","scale":{"domain":["a","b","c","d","e","f","g","h"],"range":["#440154","#482878","#3e4989","#31688e","#26828e","#1f9e89","#35b779","#6ece58"]},"legend":{"title":null,"labelFontSize":16,"labelFont":"DejaVu Sans","labelExpr":"'rₛ = ' + ['1.30','1.34','1.38','1.42','1.46','1.50','1.55','1.60'][indexof('abcdefgh', datum.value)]"}}}},
 {"data":{"values":[{"t":"1000K"}]},"mark":{"type":"text","align":"left","baseline":"alphabetic","fontSize":21,"color":"#262626"},
  "encoding":{"x":{"datum":2.0,"type":"quantitative","axis":null},"y":{"datum":1.5,"type":"quantitative","axis":{"values":[0,2],"title":null}},"text":{"field":"t"}}}
]},
{"width":313,"height":75,"layer":[
 {"data":{"name":"L"},"transform":[{"filter":"datum.T==1200"},{"fold":["a","b","c","d","e","f","g","h"],"as":["r","v"]}],
  "mark":{"type":"line","strokeWidth":2,"clip":true,"interpolate":"monotone"},
  "encoding":{"x":{"field":"x","type":"quantitative","scale":{"domain":[0.5,2.5],"nice":false},"axis":null},
   "y":{"field":"v","type":"quantitative","scale":{"domain":[0,2.2],"nice":false},"axis":{"values":[0,2],"title":null}},
   "color":{"field":"r","type":"nominal","scale":{"domain":["a","b","c","d","e","f","g","h"],"range":["#440154","#482878","#3e4989","#31688e","#26828e","#1f9e89","#35b779","#6ece58"]},"legend":{"title":null,"labelFontSize":16,"labelFont":"DejaVu Sans","labelExpr":"'rₛ = ' + ['1.30','1.34','1.38','1.42','1.46','1.50','1.55','1.60'][indexof('abcdefgh', datum.value)]"}}}},
 {"data":{"values":[{"t":"1200K"}]},"mark":{"type":"text","align":"left","baseline":"alphabetic","fontSize":21,"color":"#262626"},
  "encoding":{"x":{"datum":2.0,"type":"quantitative","axis":null},"y":{"datum":1.5,"type":"quantitative","axis":{"values":[0,2],"title":null}},"text":{"field":"t"}}}
]},
{"width":313,"height":75,"layer":[
 {"data":{"name":"L"},"transform":[{"filter":"datum.T==1500"},{"fold":["a","b","c","d","e","f","g","h"],"as":["r","v"]}],
  "mark":{"type":"line","strokeWidth":2,"clip":true,"interpolate":"monotone"},
  "encoding":{"x":{"field":"x","type":"quantitative","scale":{"domain":[0.5,2.5],"nice":false},"axis":null},
   "y":{"field":"v","type":"quantitative","scale":{"domain":[0,2.2],"nice":false},"axis":{"values":[0,2],"title":null}},
   "color":{"field":"r","type":"nominal","scale":{"domain":["a","b","c","d","e","f","g","h"],"range":["#440154","#482878","#3e4989","#31688e","#26828e","#1f9e89","#35b779","#6ece58"]},"legend":{"title":null,"labelFontSize":16,"labelFont":"DejaVu Sans","labelExpr":"'rₛ = ' + ['1.30','1.34','1.38','1.42','1.46','1.50','1.55','1.60'][indexof('abcdefgh', datum.value)]"}}}},
 {"data":{"values":[{"t":"1500K"}]},"mark":{"type":"text","align":"left","baseline":"alphabetic","fontSize":21,"color":"#262626"},
  "encoding":{"x":{"datum":2.0,"type":"quantitative","axis":null},"y":{"datum":1.5,"type":"quantitative","axis":{"values":[0,2],"title":null}},"text":{"field":"t"}}}
]},
{"width":313,"height":75,"layer":[
 {"data":{"name":"L"},"transform":[{"filter":"datum.T==2000"},{"fold":["a","b","c","d","e","f","g","h"],"as":["r","v"]}],
  "mark":{"type":"line","strokeWidth":2,"clip":true,"interpolate":"monotone"},
  "encoding":{"x":{"field":"x","type":"quantitative","scale":{"domain":[0.5,2.5],"nice":false},"axis":{"values":[0.5,1,1.5,2,2.5],"format":".1f","title":"H-H distance [Angstrom]"}},
   "y":{"field":"v","type":"quantitative","scale":{"domain":[0,2.2],"nice":false},"axis":{"values":[0,2],"title":"gₕₕ(R)"}},
   "color":{"field":"r","type":"nominal","scale":{"domain":["a","b","c","d","e","f","g","h"],"range":["#440154","#482878","#3e4989","#31688e","#26828e","#1f9e89","#35b779","#6ece58"]},"legend":{"title":null,"labelFontSize":16,"labelFont":"DejaVu Sans","labelExpr":"'rₛ = ' + ['1.30','1.34','1.38','1.42','1.46','1.50','1.55','1.60'][indexof('abcdefgh', datum.value)]"}}}},
 {"data":{"values":[{"t":"2000K"}]},"mark":{"type":"text","align":"left","baseline":"alphabetic","fontSize":21,"color":"#262626"},
  "encoding":{"x":{"datum":2.0,"type":"quantitative","axis":{"values":[0.5,1,1.5,2,2.5],"format":".1f","title":"H-H distance [Angstrom]"}},"y":{"datum":1.5,"type":"quantitative","axis":{"values":[0,2],"title":"gₕₕ(R)"}},"text":{"field":"t"}}}
]}
]},
{"spacing":15,"bounds":"flush","vconcat":[
{"width":313,"height":75,"layer":[
 {"data":{"name":"R"},"transform":[{"filter":"datum.T==800"},{"fold":["a","b","c","d","e","g","h"],"as":["r","v"]}],
  "mark":{"type":"line","strokeWidth":2,"clip":true,"interpolate":"monotone"},
  "encoding":{"x":{"field":"x","type":"quantitative","scale":{"domain":[0.5,2.5],"nice":false},"axis":null},
   "y":{"field":"v","type":"quantitative","scale":{"domain":[0,2.2],"nice":false},"axis":{"values":[0,2],"title":null}},
   "color":{"field":"r","type":"nominal","scale":{"domain":["a","b","c","d","e","g","h"],"range":["#440154","#482878","#3e4989","#31688e","#26828e","#1f9e89","#35b779"]},"legend":{"title":null,"labelFontSize":16,"labelFont":"DejaVu Sans","labelExpr":"'rₛ = ' + ['1.30','1.34','1.38','1.42','1.46','1.50','1.55','1.60'][indexof('abcdefgh', datum.value)]"}}}},
 {"data":{"values":[{"t":"800K"}]},"mark":{"type":"text","align":"left","baseline":"alphabetic","fontSize":21,"color":"#262626"},
  "encoding":{"x":{"datum":2.0,"type":"quantitative","axis":null},"y":{"datum":1.5,"type":"quantitative","axis":{"values":[0,2],"title":null}},"text":{"field":"t"}}}
]},
{"width":313,"height":75,"layer":[
 {"data":{"name":"R"},"transform":[{"filter":"datum.T==1000"},{"fold":["a","b","c","d","e","g","h"],"as":["r","v"]}],
  "mark":{"type":"line","strokeWidth":2,"clip":true,"interpolate":"monotone"},
  "encoding":{"x":{"field":"x","type":"quantitative","scale":{"domain":[0.5,2.5],"nice":false},"axis":null},
   "y":{"field":"v","type":"quantitative","scale":{"domain":[0,2.2],"nice":false},"axis":{"values":[0,2],"title":null}},
   "color":{"field":"r","type":"nominal","scale":{"domain":["a","b","c","d","e","g","h"],"range":["#440154","#482878","#3e4989","#31688e","#26828e","#1f9e89","#35b779"]},"legend":{"title":null,"labelFontSize":16,"labelFont":"DejaVu Sans","labelExpr":"'rₛ = ' + ['1.30','1.34','1.38','1.42','1.46','1.50','1.55','1.60'][indexof('abcdefgh', datum.value)]"}}}},
 {"data":{"values":[{"t":"1000K"}]},"mark":{"type":"text","align":"left","baseline":"alphabetic","fontSize":21,"color":"#262626"},
  "encoding":{"x":{"datum":2.0,"type":"quantitative","axis":null},"y":{"datum":1.5,"type":"quantitative","axis":{"values":[0,2],"title":null}},"text":{"field":"t"}}}
]},
{"width":313,"height":75,"layer":[
 {"data":{"name":"R"},"transform":[{"filter":"datum.T==1200"},{"fold":["a","b","c","d","e","g","h"],"as":["r","v"]}],
  "mark":{"type":"line","strokeWidth":2,"clip":true,"interpolate":"monotone"},
  "encoding":{"x":{"field":"x","type":"quantitative","scale":{"domain":[0.5,2.5],"nice":false},"axis":null},
   "y":{"field":"v","type":"quantitative","scale":{"domain":[0,2.2],"nice":false},"axis":{"values":[0,2],"title":null}},
   "color":{"field":"r","type":"nominal","scale":{"domain":["a","b","c","d","e","g","h"],"range":["#440154","#482878","#3e4989","#31688e","#26828e","#1f9e89","#35b779"]},"legend":{"title":null,"labelFontSize":16,"labelFont":"DejaVu Sans","labelExpr":"'rₛ = ' + ['1.30','1.34','1.38','1.42','1.46','1.50','1.55','1.60'][indexof('abcdefgh', datum.value)]"}}}},
 {"data":{"values":[{"t":"1200K"}]},"mark":{"type":"text","align":"left","baseline":"alphabetic","fontSize":21,"color":"#262626"},
  "encoding":{"x":{"datum":2.0,"type":"quantitative","axis":null},"y":{"datum":1.5,"type":"quantitative","axis":{"values":[0,2],"title":null}},"text":{"field":"t"}}}
]},
{"width":313,"height":75,"layer":[
 {"data":{"name":"R"},"transform":[{"filter":"datum.T==1500"},{"fold":["a","b","c","d","e","g","h"],"as":["r","v"]}],
  "mark":{"type":"line","strokeWidth":2,"clip":true,"interpolate":"monotone"},
  "encoding":{"x":{"field":"x","type":"quantitative","scale":{"domain":[0.5,2.5],"nice":false},"axis":null},
   "y":{"field":"v","type":"quantitative","scale":{"domain":[0,2.2],"nice":false},"axis":{"values":[0,2],"title":null}},
   "color":{"field":"r","type":"nominal","scale":{"domain":["a","b","c","d","e","g","h"],"range":["#440154","#482878","#3e4989","#31688e","#26828e","#1f9e89","#35b779"]},"legend":{"title":null,"labelFontSize":16,"labelFont":"DejaVu Sans","labelExpr":"'rₛ = ' + ['1.30','1.34','1.38','1.42','1.46','1.50','1.55','1.60'][indexof('abcdefgh', datum.value)]"}}}},
 {"data":{"values":[{"t":"1500K"}]},"mark":{"type":"text","align":"left","baseline":"alphabetic","fontSize":21,"color":"#262626"},
  "encoding":{"x":{"datum":2.0,"type":"quantitative","axis":null},"y":{"datum":1.5,"type":"quantitative","axis":{"values":[0,2],"title":null}},"text":{"field":"t"}}}
]},
{"width":313,"height":75,"layer":[
 {"data":{"name":"R"},"transform":[{"filter":"datum.T==2000"},{"fold":["a","b","c","d","e","g","h"],"as":["r","v"]}],
  "mark":{"type":"line","strokeWidth":2,"clip":true,"interpolate":"monotone"},
  "encoding":{"x":{"field":"x","type":"quantitative","scale":{"domain":[0.5,2.5],"nice":false},"axis":{"values":[0.5,1,1.5,2,2.5],"format":".1f","title":"H-H distance [Angstrom]"}},
   "y":{"field":"v","type":"quantitative","scale":{"domain":[0,2.2],"nice":false},"axis":{"values":[0,2],"title":"gₕₕ(R)"}},
   "color":{"field":"r","type":"nominal","scale":{"domain":["a","b","c","d","e","g","h"],"range":["#440154","#482878","#3e4989","#31688e","#26828e","#1f9e89","#35b779"]},"legend":{"title":null,"labelFontSize":16,"labelFont":"DejaVu Sans","labelExpr":"'rₛ = ' + ['1.30','1.34','1.38','1.42','1.46','1.50','1.55','1.60'][indexof('abcdefgh', datum.value)]"}}}},
 {"data":{"values":[{"t":"2000K"}]},"mark":{"type":"text","align":"left","baseline":"alphabetic","fontSize":21,"color":"#262626"},
  "encoding":{"x":{"datum":2.0,"type":"quantitative","axis":{"values":[0.5,1,1.5,2,2.5],"format":".1f","title":"H-H distance [Angstrom]"}},"y":{"datum":1.5,"type":"quantitative","axis":{"values":[0,2],"title":"gₕₕ(R)"}},"text":{"field":"t"}}}
]}
]}
],
"spacing":29,
"resolve":{"scale":{"color":"independent"}}
}
